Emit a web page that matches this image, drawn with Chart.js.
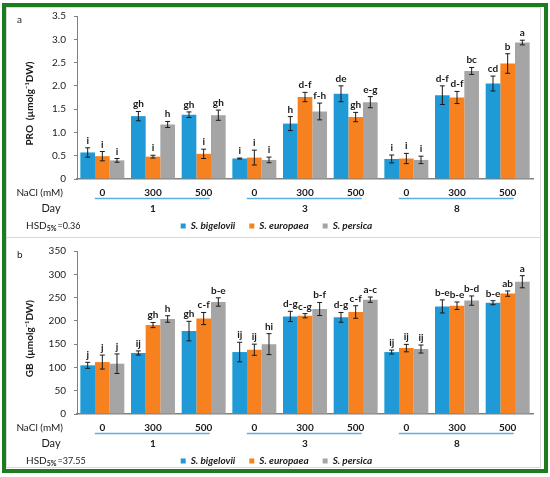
<!DOCTYPE html>
<html><head><meta charset="utf-8">
<script src="https://cdn.jsdelivr.net/npm/chart.js@4.4.0/dist/chart.umd.min.js"></script>
<style>
html,body{margin:0;padding:0;background:#fff;overflow:hidden;width:550px;height:477px;position:relative}
#frame{position:absolute;left:2px;top:3px;width:538px;height:462px;border:4px solid #1e7b1e;}
.inner{position:absolute;border:1.5px solid #d9d9d9;}
canvas{position:absolute;left:0}
</style></head>
<body>
<div id="frame"></div>
<div class="inner" style="left:6px;top:7px;width:533px;height:229px"></div>
<div class="inner" style="left:6px;top:237px;width:533px;height:229px"></div>
<canvas id="c1" width="550" height="245" style="top:0;width:550px;height:245px"></canvas>
<canvas id="c2" width="550" height="245" style="top:235px;width:550px;height:245px"></canvas>
<script>
const categories = ['0','300','500','0','300','500','0','300','500'];
const days = ['1','3','8'];
const seriesNames = ['S. bigelovii','S. europaea','S. persica'];

const proBig = [0.57,1.35,1.38,0.44,1.19,1.83,0.43,1.80,2.05];
const proBigErr = [0.10,0.10,0.06,0.01,0.15,0.17,0.085,0.20,0.16];
const proEur = [0.49,0.48,0.54,0.46,1.76,1.33,0.44,1.75,2.48];
const proEurErr = [0.10,0.03,0.10,0.16,0.10,0.10,0.11,0.13,0.21];
const proPer = [0.40,1.17,1.37,0.41,1.45,1.65,0.41,2.32,2.93];
const proPerErr = [0.04,0.065,0.11,0.06,0.18,0.12,0.08,0.075,0.05];
const proBigLet = ['i','gh','gh','i','h','de','i','d-f','cd'];
const proEurLet = ['i','i','i','i','d-f','gh','i','d-f','b'];
const proPerLet = ['i','h','gh','i','f-h','e-g','i','bc','a'];

const gbBig = [104.5,131,178,133,209.5,207.5,133,231,239];
const gbBigErr = [6.5,4.5,21,21,11,10.5,4.3,14,4.3];
const gbEur = [111.5,191,205,138,211,219,141.5,232.5,258.5];
const gbEurErr = [15,5.5,13,12,4.5,13.5,8,8,5.7];
const gbPer = [108,204,240.5,150,225.5,245.5,139.5,243.5,284];
const gbPerErr = [21,7,9,22.5,14,5.7,8.6,10,13];
const gbBigLet = ['j','ij','gh','ij','d-g','d-g','ij','b-e','b-e'];
const gbEurLet = ['j','gh','c-f','ij','c-g','c-f','ij','b-e','ab'];
const gbPerLet = ['j','h','b-e','hi','b-f','a-c','ij','b-d','a'];

const colors = ['#1f9ad6','#f7801f','#a5a5a5'];
const FONT = 'Lato, "Open Sans", sans-serif';

const annot = {
  id:'annot',
  afterDatasetsDraw(chart){
    const o = chart.options.plugins.annot;
    const ctx = chart.ctx, ys = chart.scales.y, xs = chart.scales.x;
    ctx.save();
    chart.data.datasets.forEach((ds,di)=>{
      const meta = chart.getDatasetMeta(di);
      meta.data.forEach((bar,i)=>{
        const v = ds.data[i], e = ds.err[i];
        const yt = ys.getPixelForValue(v+e), yb = ys.getPixelForValue(v-e);
        ctx.strokeStyle='#1a1a1a'; ctx.lineWidth=1;
        ctx.beginPath();
        ctx.moveTo(bar.x,yt); ctx.lineTo(bar.x,yb);
        ctx.moveTo(bar.x-2.5,yt); ctx.lineTo(bar.x+2.5,yt);
        ctx.moveTo(bar.x-2.5,yb); ctx.lineTo(bar.x+2.5,yb);
        ctx.stroke();
        ctx.fillStyle='#1a1a1a';
        ctx.font='bold 10px '+FONT;
        ctx.textAlign='center'; ctx.textBaseline='alphabetic';
        ctx.fillText(ds.letters[i], bar.x, yt-4);
      });
    });
    const b = chart.chartArea.bottom;
    days.forEach((d,g)=>{
      const x0 = xs.getPixelForValue(3*g)-7.5, x1 = xs.getPixelForValue(3*g+2)+6;
      ctx.strokeStyle='#5ab0e4'; ctx.lineWidth=1.5;
      ctx.beginPath(); ctx.moveTo(x0,b+19.5); ctx.lineTo(x1,b+19.5); ctx.stroke();
      ctx.fillStyle='#1a1a1a'; ctx.font='bold 10px '+FONT;
      ctx.textAlign='center'; ctx.textBaseline='middle';
      ctx.fillText(d, xs.getPixelForValue(3*g+1), b+30);
    });
    ctx.fillStyle='#1a1a1a';
    ctx.textBaseline='middle';
    ctx.font='10px '+FONT; ctx.textAlign='right';
    ctx.fillText('NaCl (mM)', 63, b+14);
    ctx.font='11px '+FONT; ctx.textAlign='center';
    ctx.fillText('Day', 51, b+29);
    ctx.font='10px '+FONT; ctx.textAlign='left';
    ctx.fillText(o.panel, 17, 20);
    let hx = 26, hy = 226;
    ctx.font='10px '+FONT; ctx.fillText('HSD', hx, hy); hx += ctx.measureText('HSD').width;
    ctx.font='bold 7px '+FONT; ctx.fillText('5%', hx, hy+3); hx += ctx.measureText('5%').width+1;
    ctx.font='9px '+FONT; ctx.fillText('=' + o.hsd, hx, hy);
    ctx.restore();
  }
};

function makeChart(id, a, ae, al, b, be, bl, c, ce, cl, ymax, step, title, panel, hsd){
  return new Chart(document.getElementById(id), {
    type:'bar',
    data:{
      labels: categories,
      datasets:[
        {label:seriesNames[0], data:a, err:ae, letters:al, backgroundColor:colors[0], borderWidth:0},
        {label:seriesNames[1], data:b, err:be, letters:bl, backgroundColor:colors[1], borderWidth:0},
        {label:seriesNames[2], data:c, err:ce, letters:cl, backgroundColor:colors[2], borderWidth:0}
      ]
    },
    options:{
      responsive:false, animation:false, devicePixelRatio:1,
      layout:{padding:{left:20,right:17,top:16,bottom:4}},
      categoryPercentage:0.868, barPercentage:1.0,
      scales:{
        x:{
          grid:{display:false, drawTicks:false},
          border:{display:true, color:'#808080', width:1.5},
          ticks:{font:{family:FONT,size:10,weight:'bold'}, color:'#1a1a1a', padding:8, maxRotation:0, autoSkip:false},
          afterFit(s){ s.height = 28; }
        },
        y:{
          min:0, max:ymax,
          ticks:{stepSize:step, font:{family:FONT,size:10}, color:'#1a1a1a', padding:8},
          grid:{drawOnChartArea:false, drawTicks:true, tickLength:3, color:'#808080'},
          border:{display:true, color:'#808080', width:1},
          title:{display:true, text:title, font:{family:FONT,size:10,weight:'bold'}, color:'#1a1a1a', padding:{top:4,bottom:0}},
          afterFit(s){ s.width = 57; }
        }
      },
      plugins:{
        legend:{position:'bottom', labels:{boxWidth:5, boxHeight:5, padding:14, color:'#1a1a1a', font:{family:FONT,size:10,weight:'bold',style:'italic'}}},
        tooltip:{enabled:false},
        annot:{panel:panel, hsd:hsd}
      }
    },
    plugins:[annot]
  });
}

makeChart('c1', proBig, proBigErr, proBigLet, proEur, proEurErr, proEurLet, proPer, proPerErr, proPerLet,
  3.5, 0.5, 'PRO  (\u00B5molg\u207B\u00B9DW)\u00A0\u00A0\u00A0\u00A0\u00A0', 'a', '0.36');
makeChart('c2', gbBig, gbBigErr, gbBigLet, gbEur, gbEurErr, gbEurLet, gbPer, gbPerErr, gbPerLet,
  350, 50, 'GB  (\u00B5molg\u207B\u00B9DW)\u00A0\u00A0\u00A0\u00A0\u00A0', 'b', '37.55');
</script>
</body></html>
